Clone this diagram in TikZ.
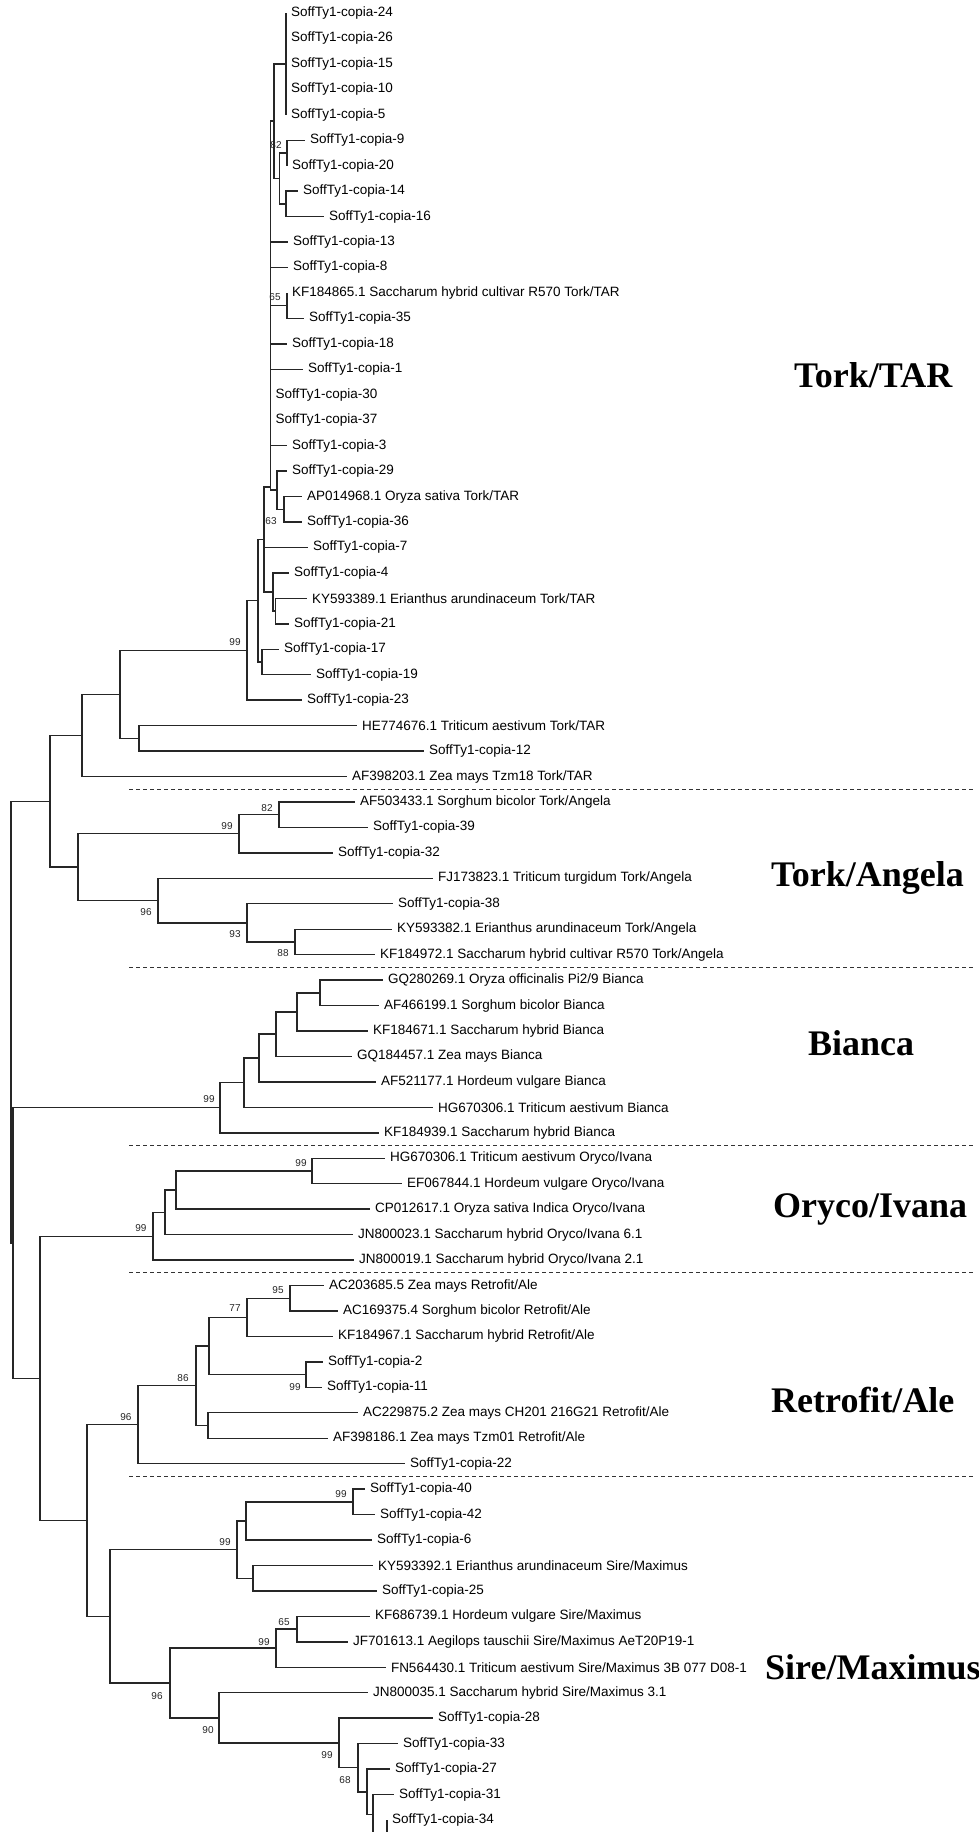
\documentclass[tikz,border=0pt]{standalone}
\usepackage{fontspec}
\newfontfamily\arialf{Liberation Sans}
\newfontfamily\timesf{Liberation Serif}
\newcommand{\lfx}[4]{\coordinate (#1) at (#2,#3); \node[ll] (#1t) at (#1) {#4};}
\begin{document}
\begin{tikzpicture}[x=1pt,y=-1pt,
  br/.style={line width=1.4pt, draw=black!85},
  ll/.style={anchor=west, inner sep=0pt, xshift=4.8pt, font=\arialf\fontsize{13.5}{16}\selectfont, text=black},
  bs/.style={inner sep=0pt, font=\arialf\fontsize{10}{12}\selectfont, text=black!85},
  cl/.style={anchor=west, inner sep=0pt, font=\timesf\bfseries\fontsize{36}{40}\selectfont},
  sepline/.style={line width=1.1pt, dash pattern=on 4pt off 3pt, draw=black!80}]
\useasboundingbox (0,0) rectangle (979,1832);
\clip (0,0) rectangle (979,1832);
\fill[white] (0,0) rectangle (979,1832);
% internal nodes
\coordinate (R) at (11,1022.2);
\coordinate (T50) at (50,801.3);
\coordinate (T82) at (82,735.44);
\coordinate (T120) at (120,694.38);
\coordinate (T139) at (139,738.33);
\coordinate (A) at (247,650.44);
\coordinate (B) at (258,600.74);
\coordinate (C) at (262,661.98);
\coordinate (D) at (264,539.5);
\coordinate (E) at (273,591.99);
\coordinate (E2) at (275.5,611.08);
\coordinate (F) at (270.5,487);
\coordinate (H) at (274,121.16);
\coordinate (G) at (286,63.9);
\coordinate (I) at (279.5,178.43);
\coordinate (J) at (287,152.98);
\coordinate (K) at (286,203.88);
\coordinate (L) at (287,305.68);
\coordinate (M) at (277,490.19);
\coordinate (N) at (284,509.28);
\coordinate (AN279) at (279,814.68);
\coordinate (AN239) at (239,833.76);
\coordinate (AN295) at (295,941.93);
\coordinate (AN247) at (247,922.84);
\coordinate (AN158) at (158,900.57);
\coordinate (T78) at (78,867.17);
\coordinate (BI320) at (320,992.83);
\coordinate (BI297) at (297,1011.91);
\coordinate (BI276) at (276,1034.18);
\coordinate (BI259) at (259,1058.04);
\coordinate (BI244) at (244,1082.7);
\coordinate (BI220) at (220,1107.75);
\coordinate (OR312) at (312,1170.98);
\coordinate (OR176) at (176,1190.06);
\coordinate (OR165) at (165,1212.33);
\coordinate (OR153) at (153,1236.19);
\coordinate (RE290) at (290,1298.23);
\coordinate (RE247) at (247,1317.31);
\coordinate (RE306) at (306,1374.58);
\coordinate (RE209) at (209,1345.94);
\coordinate (RE208) at (208,1425.48);
\coordinate (RE196) at (196,1385.71);
\coordinate (RE138) at (138,1424.68);
\coordinate (SI353) at (353,1501.83);
\coordinate (SI246) at (246,1520.91);
\coordinate (SI253) at (253,1578.18);
\coordinate (SI237) at (237,1549.54);
\coordinate (SI297) at (297,1629.08);
\coordinate (SI276) at (276,1648.16);
\coordinate (SI387) at (387,1835);
\coordinate (cut) at (387,1850);
\coordinate (SI373) at (373,1814.75);
\coordinate (SI367) at (367,1791.9);
\coordinate (SI358) at (358,1767.75);
\coordinate (SI339) at (339,1742.95);
\coordinate (SI219) at (219,1717.83);
\coordinate (SI170) at (170,1683);
\coordinate (SI110) at (110,1616.27);
\coordinate (SI87) at (87,1520.48);
\coordinate (Q40) at (40,1378.34);
\coordinate (Q13) at (13,1243.05);
% leaves
\lfx{l0}{286}{13.0}{SoffTy1-copia-24}
\lfx{l1}{286}{38.45}{SoffTy1-copia-26}
\lfx{l2}{286}{63.9}{SoffTy1-copia-15}
\lfx{l3}{286}{89.35}{SoffTy1-copia-10}
\lfx{l4}{286}{114.8}{SoffTy1-copia-5}
\lfx{l5}{305}{140.25}{SoffTy1-copia-9}
\lfx{l6}{287}{165.7}{SoffTy1-copia-20}
\lfx{l7}{298}{191.15}{SoffTy1-copia-14}
\lfx{l8}{324}{216.6}{SoffTy1-copia-16}
\lfx{l9}{288}{242.05}{SoffTy1-copia-13}
\lfx{l10}{288}{267.5}{SoffTy1-copia-8}
\lfx{l11}{287}{292.95}{KF184865.1 Saccharum hybrid cultivar R570 Tork/TAR}
\lfx{l12}{304}{318.4}{SoffTy1-copia-35}
\lfx{l13}{287}{343.85}{SoffTy1-copia-18}
\lfx{l14}{303}{369.3}{SoffTy1-copia-1}
\lfx{l15}{270.5}{394.75}{SoffTy1-copia-30}
\lfx{l16}{270.5}{420.2}{SoffTy1-copia-37}
\lfx{l17}{287}{445.65}{SoffTy1-copia-3}
\lfx{l18}{287}{471.1}{SoffTy1-copia-29}
\lfx{l19}{302}{496.55}{AP014968.1 Oryza sativa Tork/TAR}
\lfx{l20}{302}{522.0}{SoffTy1-copia-36}
\lfx{l21}{308}{547.45}{SoffTy1-copia-7}
\lfx{l22}{289}{572.9}{SoffTy1-copia-4}
\lfx{l23}{307}{598.35}{KY593389.1 Erianthus arundinaceum Tork/TAR}
\lfx{l24}{289}{623.8}{SoffTy1-copia-21}
\lfx{l25}{279}{649.25}{SoffTy1-copia-17}
\lfx{l26}{311}{674.7}{SoffTy1-copia-19}
\lfx{l27}{302}{700.15}{SoffTy1-copia-23}
\lfx{l28}{357}{725.6}{HE774676.1 Triticum aestivum Tork/TAR}
\lfx{l29}{424}{751.05}{SoffTy1-copia-12}
\lfx{l30}{347}{776.5}{AF398203.1 Zea mays Tzm18 Tork/TAR}
\lfx{l31}{355}{801.95}{AF503433.1 Sorghum bicolor Tork/Angela}
\lfx{l32}{368}{827.4}{SoffTy1-copia-39}
\lfx{l33}{333}{852.85}{SoffTy1-copia-32}
\lfx{l34}{433}{878.3}{FJ173823.1 Triticum turgidum Tork/Angela}
\lfx{l35}{393}{903.75}{SoffTy1-copia-38}
\lfx{l36}{392}{929.2}{KY593382.1 Erianthus arundinaceum Tork/Angela}
\lfx{l37}{375}{954.65}{KF184972.1 Saccharum hybrid cultivar R570 Tork/Angela}
\lfx{l38}{383}{980.1}{GQ280269.1 Oryza officinalis Pi2/9 Bianca}
\lfx{l39}{379}{1005.55}{AF466199.1 Sorghum bicolor Bianca}
\lfx{l40}{368}{1031.0}{KF184671.1 Saccharum hybrid Bianca}
\lfx{l41}{352}{1056.45}{GQ184457.1 Zea mays Bianca}
\lfx{l42}{376}{1081.9}{AF521177.1 Hordeum vulgare Bianca}
\lfx{l43}{433}{1107.35}{HG670306.1 Triticum aestivum Bianca}
\lfx{l44}{379}{1132.8}{KF184939.1 Saccharum hybrid Bianca}
\lfx{l45}{385}{1158.25}{HG670306.1 Triticum aestivum Oryco/Ivana}
\lfx{l46}{402}{1183.7}{EF067844.1 Hordeum vulgare Oryco/Ivana}
\lfx{l47}{370}{1209.15}{CP012617.1 Oryza sativa Indica Oryco/Ivana}
\lfx{l48}{353}{1234.6}{JN800023.1 Saccharum hybrid Oryco/Ivana 6.1}
\lfx{l49}{354}{1260.05}{JN800019.1 Saccharum hybrid Oryco/Ivana 2.1}
\lfx{l50}{324}{1285.5}{AC203685.5 Zea mays Retrofit/Ale}
\lfx{l51}{338}{1310.95}{AC169375.4 Sorghum bicolor Retrofit/Ale}
\lfx{l52}{333}{1336.4}{KF184967.1 Saccharum hybrid Retrofit/Ale}
\lfx{l53}{323}{1361.85}{SoffTy1-copia-2}
\lfx{l54}{322}{1387.3}{SoffTy1-copia-11}
\lfx{l55}{358}{1412.75}{AC229875.2 Zea mays CH201 216G21 Retrofit/Ale}
\lfx{l56}{328}{1438.2}{AF398186.1 Zea mays Tzm01 Retrofit/Ale}
\lfx{l57}{405}{1463.65}{SoffTy1-copia-22}
\lfx{l58}{365}{1489.1}{SoffTy1-copia-40}
\lfx{l59}{375}{1514.55}{SoffTy1-copia-42}
\lfx{l60}{372}{1540.0}{SoffTy1-copia-6}
\lfx{l61}{373}{1565.45}{KY593392.1 Erianthus arundinaceum Sire/Maximus}
\lfx{l62}{377}{1590.9}{SoffTy1-copia-25}
\lfx{l63}{370}{1616.35}{KF686739.1 Hordeum vulgare Sire/Maximus}
\lfx{l64}{348}{1641.8}{JF701613.1 Aegilops tauschii Sire/Maximus AeT20P19-1}
\lfx{l65}{386}{1667.25}{FN564430.1 Triticum aestivum Sire/Maximus 3B 077 D08-1}
\lfx{l66}{368}{1692.7}{JN800035.1 Saccharum hybrid Sire/Maximus 3.1}
\lfx{l67}{433}{1718.15}{SoffTy1-copia-28}
\lfx{l68}{398}{1743.6}{SoffTy1-copia-33}
\lfx{l69}{390}{1769.05}{SoffTy1-copia-27}
\lfx{l70}{394}{1794.5}{SoffTy1-copia-31}
\lfx{l71}{387}{1819.95}{SoffTy1-copia-34}
% bootstrap values
\node[bs] (b1) at (276,145) {82};
\node[bs] (b2) at (275,297) {65};
\node[bs] (b3) at (271,521) {63};
\node[bs] (b4) at (235,642) {99};
\node[bs] (b5) at (267,808) {82};
\node[bs] (b6) at (227,826) {99};
\node[bs] (b7) at (146,912) {96};
\node[bs] (b8) at (235,934) {93};
\node[bs] (b9) at (283,953) {88};
\node[bs] (b10) at (209,1099) {99};
\node[bs] (b11) at (301,1163) {99};
\node[bs] (b12) at (141,1228) {99};
\node[bs] (b13) at (278,1290) {95};
\node[bs] (b14) at (235,1308) {77};
\node[bs] (b15) at (183,1378) {86};
\node[bs] (b16) at (295,1387) {99};
\node[bs] (b17) at (126,1417) {96};
\node[bs] (b18) at (341,1494) {99};
\node[bs] (b19) at (225,1542) {99};
\node[bs] (b20) at (284,1622) {65};
\node[bs] (b21) at (264,1642) {99};
\node[bs] (b22) at (157,1696) {96};
\node[bs] (b23) at (208,1730) {90};
\node[bs] (b24) at (327,1755) {99};
\node[bs] (b25) at (345,1780) {68};
% branches
\draw[br] (R) |- (T50) (R) |- (Q13);
\draw[br] (T50) |- (T82) (T50) |- (T78);
\draw[br] (T82) |- (T120) (T82) |- (l30);
\draw[br] (T120) |- (A) (T120) |- (T139);
\draw[br] (T139) |- (l28) (T139) |- (l29);
\draw[br] (A) |- (B) (A) |- (l27);
\draw[br] (B) |- (D) (B) |- (C);
\draw[br] (C) |- (l25) (C) |- (l26);
\draw[br] (D) |- (F) (D) |- (l21) (D) |- (E);
\draw[br] (E) |- (l22) (E) |- (E2);
\draw[br] (E2) |- (l23) (E2) |- (l24);
\draw[br] (F) |- (H) (F) |- (l9) (F) |- (l10) (F) |- (L) (F) |- (l13) (F) |- (l14) (F) |- (l15) (F) |- (l16) (F) |- (l17) (F) |- (M);
\draw[br] (H) |- (G) (H) |- (I);
\draw[br] (G) |- (l0) (G) |- (l1) (G) |- (l2) (G) |- (l3) (G) |- (l4);
\draw[br] (I) |- (J) (I) |- (K);
\draw[br] (J) |- (l5) (J) |- (l6);
\draw[br] (K) |- (l7) (K) |- (l8);
\draw[br] (L) |- (l11) (L) |- (l12);
\draw[br] (M) |- (l18) (M) |- (N);
\draw[br] (N) |- (l19) (N) |- (l20);
\draw[br] (T78) |- (AN239) (T78) |- (AN158);
\draw[br] (AN239) |- (AN279) (AN239) |- (l33);
\draw[br] (AN279) |- (l31) (AN279) |- (l32);
\draw[br] (AN158) |- (l34) (AN158) |- (AN247);
\draw[br] (AN247) |- (l35) (AN247) |- (AN295);
\draw[br] (AN295) |- (l36) (AN295) |- (l37);
\draw[br] (Q13) |- (BI220) (Q13) |- (Q40);
\draw[br] (BI220) |- (BI244) (BI220) |- (l44);
\draw[br] (BI244) |- (BI259) (BI244) |- (l43);
\draw[br] (BI259) |- (BI276) (BI259) |- (l42);
\draw[br] (BI276) |- (BI297) (BI276) |- (l41);
\draw[br] (BI297) |- (BI320) (BI297) |- (l40);
\draw[br] (BI320) |- (l38) (BI320) |- (l39);
\draw[br] (Q40) |- (OR153) (Q40) |- (SI87);
\draw[br] (OR153) |- (OR165) (OR153) |- (l49);
\draw[br] (OR165) |- (OR176) (OR165) |- (l48);
\draw[br] (OR176) |- (OR312) (OR176) |- (l47);
\draw[br] (OR312) |- (l45) (OR312) |- (l46);
\draw[br] (SI87) |- (RE138) (SI87) |- (SI110);
\draw[br] (RE138) |- (RE196) (RE138) |- (l57);
\draw[br] (RE196) |- (RE209) (RE196) |- (RE208);
\draw[br] (RE209) |- (RE247) (RE209) |- (RE306);
\draw[br] (RE247) |- (RE290) (RE247) |- (l52);
\draw[br] (RE290) |- (l50) (RE290) |- (l51);
\draw[br] (RE306) |- (l53) (RE306) |- (l54);
\draw[br] (RE208) |- (l55) (RE208) |- (l56);
\draw[br] (SI110) |- (SI237) (SI110) |- (SI170);
\draw[br] (SI237) |- (SI246) (SI237) |- (SI253);
\draw[br] (SI246) |- (SI353) (SI246) |- (l60);
\draw[br] (SI353) |- (l58) (SI353) |- (l59);
\draw[br] (SI253) |- (l61) (SI253) |- (l62);
\draw[br] (SI170) |- (SI276) (SI170) |- (SI219);
\draw[br] (SI276) |- (SI297) (SI276) |- (l65);
\draw[br] (SI297) |- (l63) (SI297) |- (l64);
\draw[br] (SI219) |- (l66) (SI219) |- (SI339);
\draw[br] (SI339) |- (l67) (SI339) |- (SI358);
\draw[br] (SI358) |- (l68) (SI358) |- (SI367);
\draw[br] (SI367) |- (l69) (SI367) |- (SI373);
\draw[br] (SI373) |- (l70) (SI373) |- (SI387);
\draw[br] (SI387) |- (l71) (SI387) -- (cut);
% separators
\coordinate (s1a) at (129,789.2); \coordinate (s1b) at (975,789.2);
\coordinate (s2a) at (129,967.4); \coordinate (s2b) at (975,967.4);
\coordinate (s3a) at (129,1145.5); \coordinate (s3b) at (975,1145.5);
\coordinate (s4a) at (129,1272.8); \coordinate (s4b) at (975,1272.8);
\coordinate (s5a) at (129,1476.4); \coordinate (s5b) at (975,1476.4);
\draw[sepline] (s1a) -- (s1b);
\draw[sepline] (s2a) -- (s2b);
\draw[sepline] (s3a) -- (s3b);
\draw[sepline] (s4a) -- (s4b);
\draw[sepline] (s5a) -- (s5b);
% clade labels
\node[cl] (c1) at (794,375) {Tork/TAR};
\node[cl] (c2) at (771,878) {Tork/Angela};
\node[cl] (c3) at (808,1043) {Bianca};
\node[cl] (c4) at (773,1209) {Oryco/Ivana};
\node[cl] (c5) at (771,1400) {Retrofit/Ale};
\node[cl] (c6) at (765,1667) {Sire/Maximus};
\end{tikzpicture}
\end{document}
